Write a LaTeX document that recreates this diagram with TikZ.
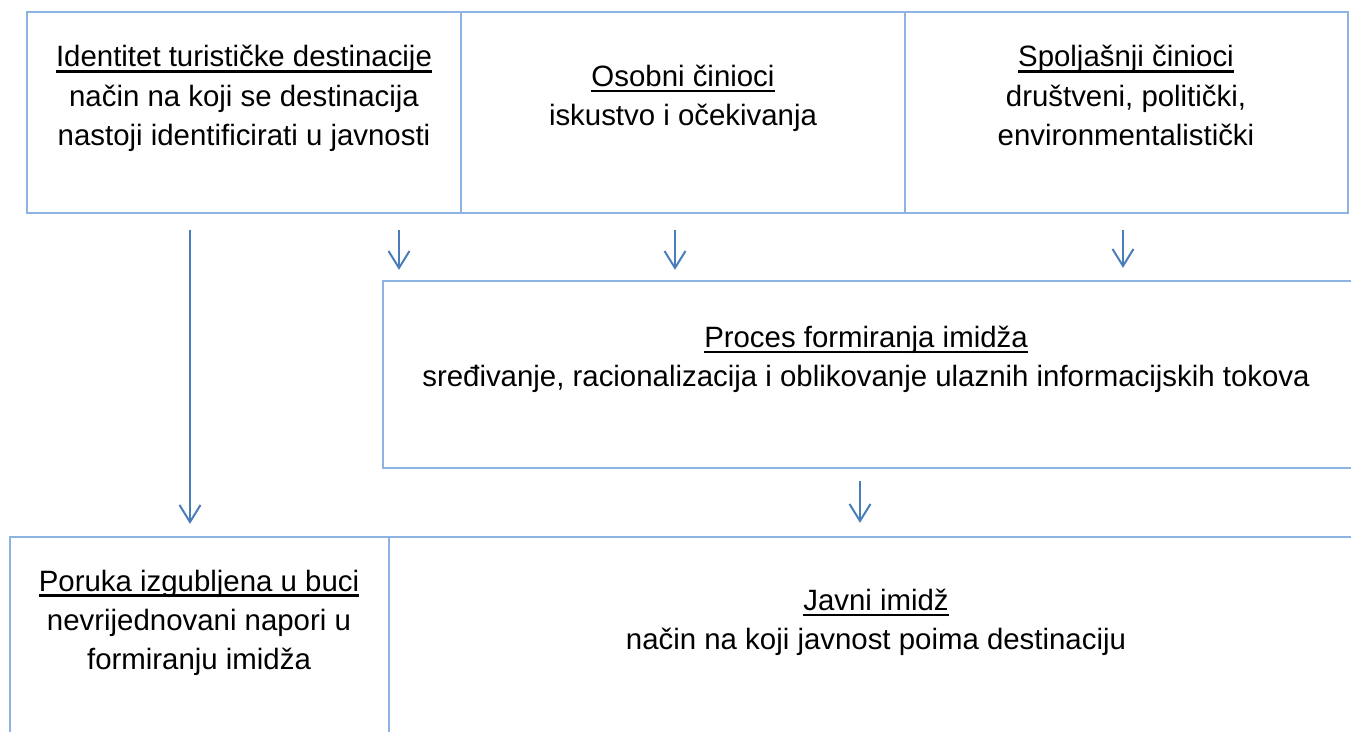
\documentclass[tikz,border=0pt]{standalone}
\usepackage{fontspec}
\setmainfont{Liberation Sans}
\usetikzlibrary{arrows.meta,fit}
\definecolor{boxc}{HTML}{8DB3E2}
\definecolor{arrc}{HTML}{4A7EBB}
\newcommand\ulx[1]{\setbox0\hbox{#1}\rlap{\rule[-2.8pt]{\wd0}{1.1pt}}\box0}
\begin{document}
\begin{tikzpicture}[x=0.5pt,y=-0.5pt,
  box/.style={draw=boxc,line width=1.1pt,inner sep=0pt},
  txt/.style={align=center,font=\fontsize{14.7}{19.75}\selectfont,inner sep=0pt,anchor=base},
  arr/.style={draw=arrc,line width=1pt,-{Straight Barb[length=8.5pt,width=10.5pt,line width=1pt]}}]
\useasboundingbox (0,0) rectangle (1351,732);
\clip (0,0) rectangle (1351,732);
% boxes
\node[box,fit={(27,12) (461,213)}] (id) {};
\node[box,fit={(461,12) (905,213)}] (os) {};
\node[box,fit={(905,12) (1348,213)}] (sp) {};
\node[box,fit={(383,281) (1400,468)}] (pr) {};
\node[box,fit={(10,537) (389,800)}] (po) {};
\node[box,fit={(389,537) (1400,800)}] (ja) {};
% texts (base = last line)
\node[txt] (tid) at (244,146) {\ulx{Identitet turističke destinacije}\\način na koji se destinacija\\nastoji identificirati u javnosti};
\node[txt] (tos) at (683,126) {\ulx{Osobni činioci}\\iskustvo i očekivanja};
\node[txt] (tsp) at (1126,146) {\ulx{Spoljašnji činioci}\\društveni, politički,\\environmentalistički};
\node[txt] (tpr) at (866,387) {\ulx{Proces formiranja imidža}\\sređivanje, racionalizacija i oblikovanje ulaznih informacijskih tokova};
\node[txt] (tpo) at (199,670) {\ulx{Poruka izgubljena u buci}\\nevrijednovani napori u\\formiranju imidža};
\node[txt] (tja) at (876,650) {\ulx{Javni imidž}\\način na koji javnost poima destinaciju};
% arrows
\coordinate (x1) at (190,0);
\coordinate (x2) at (399,0);
\coordinate (x3) at (675,0);
\coordinate (x4) at (1123,0);
\coordinate (x5) at (860,0);
\draw[arr,shorten <=8pt,shorten >=6pt] (id.south -| x1) -- (po.north -| x1);
\draw[arr,shorten <=8pt,shorten >=5pt] (id.south -| x2) -- (pr.north -| x2);
\draw[arr,shorten <=8pt,shorten >=5pt] (os.south -| x3) -- (pr.north -| x3);
\draw[arr,shorten <=8pt,shorten >=6pt] (sp.south -| x4) -- (pr.north -| x4);
\draw[arr,shorten <=6pt,shorten >=6.5pt] (pr.south -| x5) -- (ja.north -| x5);
\end{tikzpicture}
\end{document}
